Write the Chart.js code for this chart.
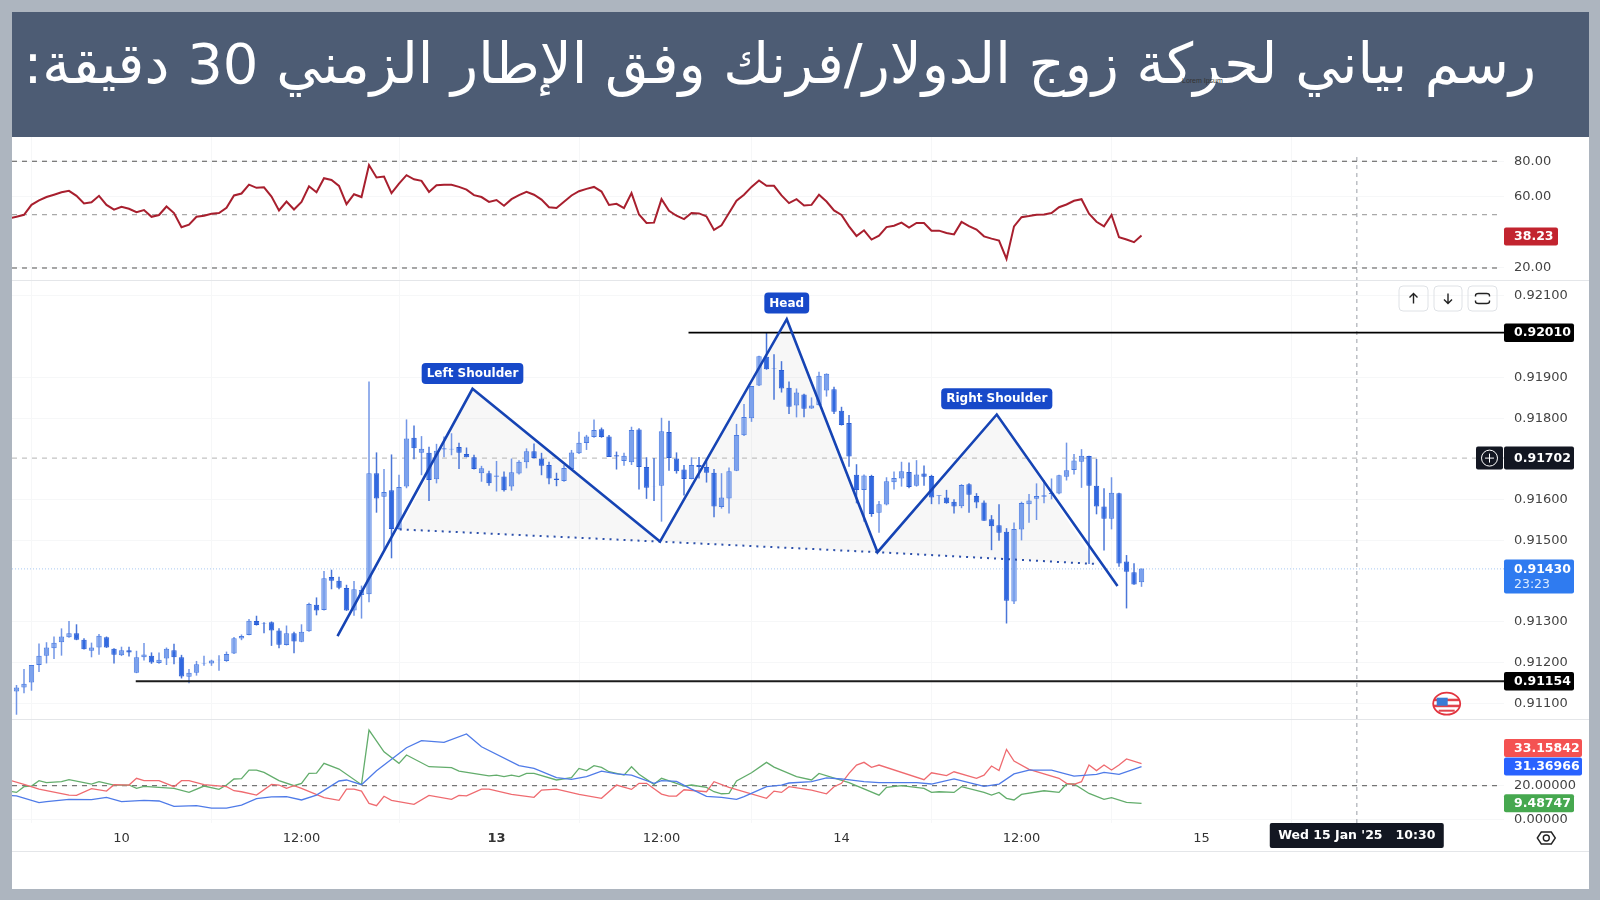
<!DOCTYPE html>
<html lang="ar">
<head>
<meta charset="utf-8">
<title>USD/CHF 30m</title>
<script src="https://cdn.jsdelivr.net/npm/chart.js@4/dist/chart.umd.min.js"></script>
<style>
html, body { margin: 0; padding: 0; background: #adb5bf; overflow: hidden; }
#page { position: relative; width: 1600px; height: 900px; background: #adb5bf; }
#card { position: absolute; left: 12px; top: 137px; width: 1577px; height: 752px; background: #fff; }
#header { position: absolute; left: 12px; top: 12px; width: 1577px; height: 125px; background: #4d5c74; }
#title { position: absolute; right: 53px; top: 19px; color: #fff; font: 56px "DejaVu Sans", sans-serif; direction: rtl; white-space: nowrap; }
#stamp { position: absolute; left: 1182px; top: 77px; color: #333; font: 7px "Liberation Sans", sans-serif; }
canvas { position: absolute; left: 0; }
.divider { position: absolute; left: 12px; width: 1577px; height: 1px; background: #e4e6e9; }
</style>
</head>
<body>
<div id="page">
  <div id="card"></div>
  <div id="header"><div id="title">رسم بياني لحركة زوج الدولار/فرنك وفق الإطار الزمني 30 دقيقة:</div></div>
  <div id="stamp">Lorem Ipsum</div>
  <canvas id="rsiPane" width="1600" height="143" style="top:137px"></canvas>
  <div class="divider" style="top:280px"></div>
  <canvas id="pricePane" width="1600" height="438" style="top:281px"></canvas>
  <div class="divider" style="top:719px"></div>
  <canvas id="dmiPane" width="1600" height="131" style="top:720px"></canvas>
  <div class="divider" style="top:851px"></div>
</div>
<script>
// candles, 30 minute bars
const opens = [
  0.91129,0.91139,0.91151,0.91194,0.91217,0.91235,0.91250,0.91262,0.91272,0.91256,
  0.91229,0.91237,0.91262,0.91234,0.91218,0.91230,0.91175,0.91213,0.91217,0.91199,
  0.91210,0.91230,0.91213,0.91165,0.91175,0.91198,0.91198,0.91206,0.91204,0.91222,
  0.91259,0.91268,0.91302,0.91297,0.91299,0.91279,0.91243,0.91272,0.91251,0.91277,
  0.91342,0.91329,0.91410,0.91401,0.91383,0.91328,0.91366,0.91368,0.91665,0.91607,
  0.91623,0.91528,0.91632,0.91752,0.91715,0.91715,0.91650,0.91723,0.91723,0.91729,
  0.91712,0.91704,0.91665,0.91665,0.91656,0.91657,0.91632,0.91664,0.91692,0.91719,
  0.91701,0.91685,0.91652,0.91646,0.91675,0.91714,0.91739,0.91754,0.91773,0.91755,
  0.91709,0.91695,0.91692,0.91772,0.91680,0.91633,0.91634,0.91766,0.91701,0.91674,
  0.91651,0.91685,0.91680,0.91666,0.91582,0.91603,0.91671,0.91758,0.91800,0.91880,
  0.91951,0.91922,0.91918,0.91875,0.91831,0.91858,0.91824,0.91832,0.91868,0.91871,
  0.91818,0.91788,0.91661,0.91624,0.91658,0.91568,0.91588,0.91643,0.91652,0.91668,
  0.91634,0.91664,0.91658,0.91609,0.91605,0.91595,0.91584,0.91638,0.91609,0.91593,
  0.91552,0.91537,0.91521,0.91350,0.91527,0.91589,0.91602,0.91607,0.91614,0.91615,
  0.91656,0.91673,0.91693,0.91707,0.91634,0.91583,0.91553,0.91616,0.91448,0.91422,
  0.91397];
const highs = [
  0.91145,0.91184,0.91194,0.91247,0.91250,0.91264,0.91284,0.91302,0.91294,0.91260,
  0.91249,0.91270,0.91264,0.91235,0.91239,0.91239,0.91229,0.91248,0.91225,0.91225,
  0.91237,0.91246,0.91219,0.91184,0.91204,0.91217,0.91207,0.91218,0.91227,0.91263,
  0.91269,0.91307,0.91315,0.91299,0.91301,0.91284,0.91291,0.91276,0.91294,0.91347,
  0.91360,0.91425,0.91428,0.91411,0.91391,0.91400,0.91389,0.91890,0.91716,0.91675,
  0.91711,0.91661,0.91797,0.91782,0.91756,0.91730,0.91737,0.91755,0.91763,0.91740,
  0.91728,0.91710,0.91683,0.91671,0.91695,0.91669,0.91701,0.91697,0.91726,0.91738,
  0.91715,0.91693,0.91666,0.91685,0.91722,0.91767,0.91759,0.91797,0.91777,0.91759,
  0.91718,0.91715,0.91779,0.91775,0.91704,0.91702,0.91801,0.91794,0.91716,0.91685,
  0.91704,0.91705,0.91701,0.91675,0.91665,0.91679,0.91786,0.91835,0.91879,0.91953,
  0.92011,0.91957,0.91940,0.91890,0.91873,0.91860,0.91851,0.91914,0.91910,0.91877,
  0.91828,0.91808,0.91687,0.91662,0.91661,0.91597,0.91655,0.91669,0.91693,0.91691,
  0.91697,0.91684,0.91661,0.91611,0.91624,0.91601,0.91638,0.91640,0.91616,0.91598,
  0.91562,0.91589,0.91530,0.91544,0.91595,0.91614,0.91640,0.91648,0.91652,0.91661,
  0.91740,0.91712,0.91724,0.91708,0.91700,0.91628,0.91655,0.91617,0.91464,0.91444,
  0.91431];
const lows = [
  0.91072,0.91125,0.91131,0.91177,0.91198,0.91209,0.91217,0.91261,0.91255,0.91232,
  0.91213,0.91219,0.91236,0.91198,0.91216,0.91215,0.91174,0.91205,0.91197,0.91197,
  0.91194,0.91196,0.91161,0.91149,0.91168,0.91192,0.91192,0.91180,0.91202,0.91221,
  0.91255,0.91267,0.91291,0.91272,0.91241,0.91235,0.91242,0.91223,0.91250,0.91276,
  0.91316,0.91328,0.91380,0.91380,0.91327,0.91315,0.91308,0.91348,0.91568,0.91477,
  0.91456,0.91526,0.91628,0.91699,0.91660,0.91597,0.91640,0.91704,0.91709,0.91675,
  0.91704,0.91674,0.91644,0.91634,0.91620,0.91620,0.91622,0.91662,0.91677,0.91701,
  0.91660,0.91638,0.91633,0.91644,0.91674,0.91712,0.91722,0.91752,0.91752,0.91705,
  0.91674,0.91683,0.91685,0.91625,0.91602,0.91597,0.91546,0.91671,0.91664,0.91610,
  0.91650,0.91652,0.91642,0.91557,0.91578,0.91566,0.91670,0.91756,0.91791,0.91879,
  0.91919,0.91845,0.91863,0.91810,0.91802,0.91802,0.91823,0.91831,0.91853,0.91810,
  0.91782,0.91681,0.91591,0.91546,0.91558,0.91519,0.91586,0.91625,0.91632,0.91628,
  0.91632,0.91634,0.91589,0.91589,0.91590,0.91566,0.91579,0.91568,0.91579,0.91548,
  0.91476,0.91499,0.91296,0.91344,0.91500,0.91543,0.91550,0.91591,0.91601,0.91613,
  0.91647,0.91662,0.91629,0.91442,0.91564,0.91475,0.91527,0.91435,0.91333,0.91391,
  0.91386];
const closes = [
  0.91139,0.91148,0.91194,0.91217,0.91237,0.91249,0.91264,0.91272,0.91256,0.91233,
  0.91237,0.91266,0.91237,0.91219,0.91230,0.91225,0.91213,0.91220,0.91200,0.91207,
  0.91234,0.91213,0.91166,0.91175,0.91196,0.91199,0.91205,0.91207,0.91221,0.91260,
  0.91265,0.91303,0.91292,0.91296,0.91279,0.91244,0.91272,0.91252,0.91276,0.91344,
  0.91328,0.91407,0.91401,0.91384,0.91328,0.91380,0.91378,0.91665,0.91603,0.91619,
  0.91528,0.91631,0.91750,0.91726,0.91725,0.91648,0.91720,0.91726,0.91725,0.91715,
  0.91704,0.91675,0.91677,0.91640,0.91659,0.91623,0.91667,0.91693,0.91719,0.91702,
  0.91683,0.91652,0.91648,0.91678,0.91716,0.91740,0.91755,0.91771,0.91754,0.91705,
  0.91706,0.91708,0.91771,0.91680,0.91629,0.91632,0.91768,0.91702,0.91670,0.91651,
  0.91685,0.91680,0.91666,0.91583,0.91605,0.91670,0.91759,0.91803,0.91879,0.91952,
  0.91920,0.91921,0.91873,0.91828,0.91863,0.91823,0.91831,0.91904,0.91909,0.91816,
  0.91783,0.91706,0.91624,0.91659,0.91565,0.91589,0.91645,0.91653,0.91670,0.91631,
  0.91662,0.91656,0.91605,0.91611,0.91591,0.91583,0.91636,0.91612,0.91593,0.91548,
  0.91535,0.91519,0.91352,0.91528,0.91592,0.91598,0.91609,0.91611,0.91617,0.91660,
  0.91672,0.91696,0.91708,0.91634,0.91583,0.91553,0.91617,0.91443,0.91423,0.91392,
  0.91431];

// rsi, first value sits just before bar 0
const rsiValues = [
  47.9,
  48.8,49.9,55.5,58.0,59.9,61.2,62.6,63.4,60.6,56.3,
  57.0,60.6,55.5,52.8,54.4,53.3,51.4,52.6,48.8,49.8,
  54.6,50.9,42.9,44.4,48.8,49.4,50.5,50.9,53.9,60.8,
  61.9,66.9,65.1,65.4,60.2,52.4,57.4,52.9,57.2,66.0,
  62.6,70.5,69.5,66.2,55.9,61.5,59.9,77.9,70.9,71.4,
  62.1,67.5,72.2,69.9,69.0,62.8,66.6,66.8,66.8,65.6,
  64.1,61.0,59.9,57.2,58.2,55.0,58.7,61.0,62.8,61.2,
  58.5,54.2,53.7,57.2,60.8,63.2,64.5,65.6,63.0,55.5,
  56.1,53.7,62.1,50.1,45.3,45.5,58.7,52.2,49.4,47.5,
  50.9,50.7,49.0,41.4,44.0,50.9,57.8,61.2,65.6,69.2,
  66.2,66.2,60.8,56.5,58.7,55.2,55.5,61.2,57.4,52.4,
  49.8,43.4,38.0,41.2,36.0,38.2,43.0,43.8,45.5,42.7,
  45.3,45.3,41.0,41.0,39.7,38.9,45.9,43.6,41.6,37.8,
  36.5,35.4,25.1,43.4,48.6,49.2,50.0,50.1,50.9,54.2,
  55.7,57.8,58.7,50.5,46.0,43.4,49.8,37.3,36.0,34.5,
  38.23];
const rsiLevels = [80, 50, 20];
const rsiTicks = [80, 60, 20];

// dmi lines, only the turning points
const adxBars = [-1,0,3,4,7,10,12,14,17,19,21,24,26,28,30,32,34,36,38,40,43,44,46,48,52,54,57,60,62,67,69,72,74,76,78,80,82,85,86,88,90,92,94,96,97,100,102,103,106,108,110,113,115,120,122,125,129,131,133,135,138,141,144,145,147,150];
const adxValues = [14.2,14.0,9.9,10.5,11.9,11.7,13.1,10.5,11.3,10.9,7.7,8.1,6.7,6.7,8.5,12.3,13.3,13.5,11.5,14.4,22.8,23.4,20.6,28.9,42.6,46.8,45.8,50.8,43.2,31.9,30.3,24.8,23.8,25.4,28.7,27.0,26.3,21.4,23.0,22.6,18.0,13.7,13.1,11.9,13.5,19.4,20.4,21.6,22.4,24.6,24.0,22.4,21.8,21.8,21.0,24.0,19.6,21.0,27.0,29.3,29.3,25.7,26.7,27.9,26.7,31.37];
const minusDiBars = [-1,1,3,7,8,10,12,13,15,16,17,19,21,22,23,25,28,29,30,32,34,35,36,37,38,41,43,44,45,46,47,48,49,50,53,55,58,59,60,62,63,66,69,70,72,75,78,80,82,83,84,86,87,88,89,92,93,95,100,101,102,103,106,108,109,110,111,112,113,114,115,121,122,124,125,128,129,130,131,132,133,135,139,140,141,142,143,144,145,146,147,148,150];
const minusDiValues = [23.4,20.8,18.0,14.4,14.2,18.2,16.8,20.6,20.4,24.4,23.0,23.0,19.4,23.0,23.0,20.6,19.4,17.0,16.4,14.4,20.8,20.4,18.4,20.0,18.4,12.9,11.3,18.0,18.0,16.8,9.5,8.1,13.7,11.3,8.9,14.2,11.9,14.2,14.0,18.0,18.0,14.8,13.1,17.4,18.0,14.8,12.5,20.4,17.8,21.4,21.4,15.0,13.8,13.8,17.6,16.4,22.4,19.0,12.5,16.8,16.0,19.4,17.4,15.2,19.4,21.4,27.3,32.3,33.9,30.9,32.3,23.6,27.7,26.0,28.3,24.4,26.3,31.7,29.0,41.6,34.7,29.7,24.4,21.4,20.8,22.4,32.3,29.0,32.3,29.3,32.3,35.9,33.16];
const plusDiBars = [-1,0,1,2,3,4,6,7,10,11,13,15,16,17,21,23,25,27,28,29,30,31,32,33,35,37,38,39,40,41,43,46,47,49,51,52,55,58,59,63,64,65,66,67,68,69,72,74,75,76,77,78,79,81,82,83,85,86,88,89,90,92,93,94,95,96,98,100,101,104,106,107,111,115,116,118,121,122,123,125,126,129,130,131,132,133,134,137,139,140,141,143,145,146,148,150];
const plusDiValues = [16.8,16.0,19.4,19.8,23.0,21.8,22.4,23.6,21.0,22.4,20.4,20.4,18.4,19.6,18.4,16.0,19.8,17.8,20.4,24.0,24.2,29.3,29.3,27.9,23.0,20.0,21.4,27.3,27.5,33.3,29.9,20.6,53.1,40.2,33.3,38.3,31.3,30.7,28.7,25.8,26.3,25.4,26.3,25.4,27.3,27.3,23.4,24.8,30.3,29.0,31.9,30.9,28.3,26.3,31.3,26.8,20.8,24.4,21.4,19.8,20.4,19.0,16.4,15.2,15.4,22.8,27.7,33.9,31.1,25.4,23.4,27.3,21.8,14.4,19.0,20.0,18.4,16.0,16.4,16.0,19.4,16.0,14.4,16.0,12.5,11.5,14.8,17.0,16.0,21.0,21.0,15.4,11.9,12.9,10.1,9.49];
const dmiLevels = [20];
const dmiTicks = [20, 0];

// head and shoulders drawing
const patternBars = [42.8, 60.8, 85.8, 102.7, 114.8, 130.7, 146.8];
const patternPrices = [0.91265, 0.91872, 0.91497, 0.92043, 0.91471, 0.91809, 0.91388];
const shadeBars = [51.1, 60.8, 85.8, 102.7, 114.8, 130.7, 144.0];
const shadePrices = [0.91527, 0.91872, 0.91497, 0.92043, 0.91471, 0.91809, 0.91442];
const neckBars = [51.1, 85.8, 114.8, 144.0];
const neckPrices = [0.91527, 0.91497, 0.91471, 0.91442];
const patternNames = ['Left Shoulder', 'Head', 'Right Shoulder'];
const patternNameBars = [60.8, 102.7, 130.7];
const patternNamePrices = [0.91910, 0.92083, 0.91848];

const priceTicks = [0.921, 0.919, 0.918, 0.916, 0.915, 0.913, 0.912, 0.911];
const resistance = 0.92010;
const resistanceStart = 89.6;
const support = 0.91154;
const supportStart = 15.9;
const crossPrice = 0.91702;
const lastPrice = 0.91430;
const countdown = '23:23';
const crossBar = 178.7;
const crossDate = "Wed 15 Jan '25   10:30";

const timeBars = [14, 38, 64, 86, 110, 134, 158];
const timeLabels = ['10', '12:00', '13', '12:00', '14', '12:00', '15'];
const boldTimeLabel = '13';

const barMin = -0.6;
const barMax = 198.33;
const levelEnd = 197.5;
const fontFamily = '"DejaVu Sans", sans-serif';

function zip(bars, values) {
  return bars.map((b, i) => ({ x: b, y: values[i] }));
}

function lineSet(data, color, width, dash, order) {
  return {
    type: 'line', data: data, borderColor: color, borderWidth: width,
    borderDash: dash || [], pointRadius: 0, tension: 0, fill: false, order: order || 2
  };
}

function makeScales(yMin, yMax, yTicks, decimals, showTime) {
  return {
    x: {
      type: 'linear', min: barMin, max: barMax, offset: false,
      grid: { color: '#f6f7f8', drawTicks: false },
      border: { display: false },
      afterBuildTicks: s => { s.ticks = timeBars.map(v => ({ value: v })); },
      afterFit: s => { s.height = showTime ? 28 : 0; },
      ticks: {
        display: showTime, autoSkip: false, maxRotation: 0, padding: 8, color: '#333',
        font: ctx => ({
          family: fontFamily, size: 13,
          weight: ctx.tick && timeLabels[timeBars.indexOf(ctx.tick.value)] === boldTimeLabel ? 'bold' : 'normal'
        }),
        callback: v => timeLabels[timeBars.indexOf(v)]
      }
    },
    y: {
      position: 'right', min: yMin, max: yMax,
      grid: { color: '#f6f7f8', drawTicks: false },
      border: { display: false },
      afterBuildTicks: s => { s.ticks = yTicks.map(v => ({ value: v })); },
      afterFit: s => { s.width = 85; s.paddingTop = 0; s.paddingBottom = 0; },
      ticks: {
        padding: 10, color: '#444', autoSkip: false,
        font: { family: fontFamily, size: 13 },
        callback: v => v.toFixed(decimals)
      }
    }
  };
}

function makeChart(id, datasets, scales, plugins) {
  return new Chart(document.getElementById(id), {
    type: 'bar',
    data: { datasets: datasets },
    options: {
      responsive: false, animation: false,
      layout: { padding: { left: 12, right: 11, top: 0, bottom: 0 } },
      plugins: { legend: { display: false }, tooltip: { enabled: false } },
      scales: scales
    },
    plugins: plugins
  });
}

// price tag on the right axis
function drawTag(ctx, x, yMid, w, h, color, text) {
  ctx.fillStyle = color;
  ctx.beginPath();
  ctx.roundRect(x, yMid - h / 2, w, h, 2);
  ctx.fill();
  ctx.fillStyle = '#fff';
  ctx.font = 'bold 12.5px ' + fontFamily;
  ctx.textAlign = 'left';
  ctx.textBaseline = 'middle';
  ctx.fillText(text, x + 10, yMid + 0.5);
}

function drawButton(ctx, x, y, w, h, kind) {
  ctx.strokeStyle = '#dfe2e6';
  ctx.lineWidth = 1;
  ctx.beginPath();
  ctx.roundRect(x, y, w, h, 4);
  ctx.stroke();
  const cx = x + w / 2, cy = y + h / 2;
  ctx.strokeStyle = '#222';
  ctx.lineWidth = 1.4;
  ctx.beginPath();
  if (kind === 'up' || kind === 'down') {
    const d = kind === 'up' ? -1 : 1;
    ctx.moveTo(cx, cy - 5 * d);
    ctx.lineTo(cx, cy + 5 * d);
    ctx.moveTo(cx - 4, cy + d);
    ctx.lineTo(cx, cy + 5 * d);
    ctx.lineTo(cx + 4, cy + d);
  } else {
    ctx.moveTo(cx - 7, cy - 2);
    ctx.lineTo(cx - 7, cy - 3);
    ctx.quadraticCurveTo(cx - 7, cy - 5, cx - 4, cy - 5);
    ctx.lineTo(cx + 4, cy - 5);
    ctx.quadraticCurveTo(cx + 7, cy - 5, cx + 7, cy - 3);
    ctx.lineTo(cx + 7, cy - 2);
    ctx.moveTo(cx - 7, cy + 2);
    ctx.lineTo(cx - 7, cy + 3);
    ctx.quadraticCurveTo(cx - 7, cy + 5, cx - 4, cy + 5);
    ctx.lineTo(cx + 4, cy + 5);
    ctx.quadraticCurveTo(cx + 7, cy + 5, cx + 7, cy + 3);
    ctx.lineTo(cx + 7, cy + 2);
  }
  ctx.stroke();
}

function drawFlag(ctx, cx, cy) {
  ctx.save();
  ctx.beginPath();
  ctx.ellipse(cx, cy, 13.5, 11, 0, 0, Math.PI * 2);
  ctx.fillStyle = '#fff';
  ctx.fill();
  ctx.clip();
  ctx.fillStyle = '#e2434c';
  ctx.fillRect(cx - 14, cy - 5, 28, 2.5);
  ctx.fillRect(cx - 14, cy + 1, 28, 2.5);
  ctx.fillRect(cx - 8, cy + 6, 16, 2);
  ctx.fillStyle = '#3a7bd5';
  ctx.fillRect(cx - 10, cy - 6, 11, 8);
  ctx.restore();
  ctx.strokeStyle = '#e2343f';
  ctx.lineWidth = 1.8;
  ctx.beginPath();
  ctx.ellipse(cx, cy, 13.5, 11, 0, 0, Math.PI * 2);
  ctx.stroke();
}

const rsiPlugin = {
  id: 'rsiTags',
  afterDraw(chart) {
    const y = chart.scales.y.getPixelForValue(rsiValues[rsiValues.length - 1]);
    drawTag(chart.ctx, 1504, y + 1, 54, 18, '#c2242f', rsiValues[rsiValues.length - 1].toFixed(2));
  }
};

const pricePlugin = {
  id: 'priceTags',
  afterDraw(chart) {
    const ctx = chart.ctx, sy = chart.scales.y, sx = chart.scales.x;
    // pattern name boxes
    patternNames.forEach((name, i) => {
      ctx.font = 'bold 12px ' + fontFamily;
      const w = ctx.measureText(name).width + 10;
      const cx = sx.getPixelForValue(patternNameBars[i]);
      const cy = sy.getPixelForValue(patternNamePrices[i]);
      ctx.fillStyle = '#1749c9';
      ctx.beginPath();
      ctx.roundRect(cx - w / 2, cy - 10.5, w, 21, 4);
      ctx.fill();
      ctx.fillStyle = '#fff';
      ctx.textAlign = 'center';
      ctx.textBaseline = 'middle';
      ctx.fillText(name, cx, cy + 0.5);
    });
    drawTag(ctx, 1504, sy.getPixelForValue(resistance), 70, 18.5, '#000', resistance.toFixed(5));
    drawTag(ctx, 1504, sy.getPixelForValue(support), 70, 18.5, '#000', support.toFixed(5));
    const yc = sy.getPixelForValue(crossPrice);
    drawTag(ctx, 1504, yc, 70, 23, '#131722', crossPrice.toFixed(5));
    ctx.fillStyle = '#131722';
    ctx.beginPath();
    ctx.roundRect(1476, yc - 11.5, 27, 23, 2);
    ctx.fill();
    ctx.strokeStyle = '#fff';
    ctx.lineWidth = 1;
    ctx.beginPath();
    ctx.arc(1489.5, yc, 8, 0, Math.PI * 2);
    ctx.moveTo(1485, yc);
    ctx.lineTo(1494, yc);
    ctx.moveTo(1489.5, yc - 4.5);
    ctx.lineTo(1489.5, yc + 4.5);
    ctx.stroke();
    // last price with countdown below it
    const yl = sy.getPixelForValue(lastPrice);
    ctx.fillStyle = '#2f7bf0';
    ctx.beginPath();
    ctx.roundRect(1504, yl - 9.5, 70, 34, 2);
    ctx.fill();
    ctx.fillStyle = '#fff';
    ctx.font = 'bold 12.5px ' + fontFamily;
    ctx.textAlign = 'left';
    ctx.textBaseline = 'middle';
    ctx.fillText(lastPrice.toFixed(5), 1514, yl + 0.5);
    ctx.fillStyle = '#dcebff';
    ctx.font = '12.5px ' + fontFamily;
    ctx.fillText(countdown, 1514, yl + 16);
    // chart buttons, event flag
    drawButton(ctx, 1399, 5, 29, 25, 'up');
    drawButton(ctx, 1434, 5, 28, 25, 'down');
    drawButton(ctx, 1468, 5, 29, 25, 'box');
    drawFlag(ctx, 1446.7, 422.7);
  }
};

const dmiPlugin = {
  id: 'dmiTags',
  afterDraw(chart) {
    const ctx = chart.ctx, sy = chart.scales.y, sx = chart.scales.x;
    // zero label gets cut by the time axis strip
    ctx.fillStyle = '#fff';
    ctx.fillRect(1504, chart.chartArea.bottom, 85, 28);
    const blue = adxValues[adxValues.length - 1];
    const red = minusDiValues[minusDiValues.length - 1];
    const green = plusDiValues[plusDiValues.length - 1];
    drawTag(ctx, 1504, sy.getPixelForValue(blue), 78, 18, '#2962ff', '31.36966');
    drawTag(ctx, 1504, sy.getPixelForValue(red) - 15.5, 78, 18, '#f45252', '33.15842');
    drawTag(ctx, 1504, sy.getPixelForValue(green), 70, 18, '#46a84f', '9.48747');
    // date tag under the crosshair
    const cx = sx.getPixelForValue(crossBar);
    ctx.fillStyle = '#131722';
    ctx.beginPath();
    ctx.roundRect(cx - 87, chart.chartArea.bottom, 174, 25, 2);
    ctx.fill();
    ctx.fillStyle = '#fff';
    ctx.font = 'bold 12.5px ' + fontFamily;
    ctx.textAlign = 'center';
    ctx.textBaseline = 'middle';
    ctx.fillText(crossDate, cx, chart.chartArea.bottom + 13);
    // settings icon
    const ex = 1546.3, ey = chart.chartArea.bottom + 15;
    ctx.strokeStyle = '#222';
    ctx.lineWidth = 1.4;
    ctx.beginPath();
    ctx.moveTo(ex - 9, ey);
    ctx.lineTo(ex - 5, ey - 6);
    ctx.lineTo(ex + 5, ey - 6);
    ctx.lineTo(ex + 9, ey);
    ctx.lineTo(ex + 5, ey + 6);
    ctx.lineTo(ex - 5, ey + 6);
    ctx.closePath();
    ctx.moveTo(ex + 3, ey);
    ctx.arc(ex, ey, 3, 0, Math.PI * 2);
    ctx.stroke();
  }
};

// rsi pane
const rsiMin = 13.25, rsiMax = 93.67;
const rsiSets = [
  lineSet(rsiValues.map((v, i) => ({ x: i - 1, y: v })), '#a81f2e', 2, null, 1),
  lineSet(zip([crossBar, crossBar], [82.4, rsiMin]), '#bcbfc4', 1.5, [4, 4], 6)
];
rsiLevels.forEach(v => {
  rsiSets.push(lineSet(zip([barMin, levelEnd], [v, v]), v === 50 ? '#a5a5a5' : '#6f6f6f', 1.2, [5, 5], 5));
});
makeChart('rsiPane', rsiSets, makeScales(rsiMin, rsiMax, rsiTicks, 2, false), [rsiPlugin]);

// price pane
const priceMin = 0.910615, priceMax = 0.921368;
const isUp = opens.map((o, i) => closes[i] >= o);
const priceSets = [
  lineSet(zip(patternBars, patternPrices), '#1644b4', 2.6, null, 1),
  lineSet(zip(neckBars, neckPrices), '#2c50ab', 2, [2, 5], 2),
  {
    type: 'bar', grouped: false, maxBarThickness: 6, order: 4, borderWidth: 1, borderSkipped: false,
    data: opens.map((o, i) => ({ x: i, y: [o, closes[i]] })),
    backgroundColor: isUp.map(u => (u ? '#7ba1ec' : '#3169e0')),
    borderColor: isUp.map(u => (u ? '#4a7be2' : '#2a5dd4'))
  },
  {
    type: 'bar', grouped: false, maxBarThickness: 1.5, order: 5, borderWidth: 0, borderSkipped: false,
    data: lows.map((l, i) => ({ x: i, y: [l, highs[i]] })),
    backgroundColor: isUp.map(u => (u ? '#7296e6' : '#4a76d8'))
  },
  lineSet(zip([resistanceStart, barMax], [resistance, resistance]), '#000', 1.8, null, 3),
  lineSet(zip([supportStart, barMax], [support, support]), '#1b1b1b', 2, null, 3),
  lineSet(zip([barMin, barMax], [crossPrice, crossPrice]), '#b3b3b3', 1, [5, 5], 8),
  lineSet(zip([barMin, barMax], [lastPrice, lastPrice]), '#a9c9f2', 1, [1, 2], 8),
  lineSet(zip([crossBar, crossBar], [priceMin, priceMax]), '#bcbfc4', 1.5, [4, 4], 7),
  // light fill inside the pattern, goes to the next dataset
  Object.assign(lineSet(zip(shadeBars, shadePrices), 'rgba(0,0,0,0)', 0, null, 10), {
    fill: '+1', backgroundColor: 'rgba(110,110,110,0.055)'
  }),
  lineSet(zip(neckBars, neckPrices), 'rgba(0,0,0,0)', 0, null, 11)
];
makeChart('pricePane', priceSets, makeScales(priceMin, priceMax, priceTicks, 5, false), [pricePlugin]);

// dmi pane
const dmiMin = -2.2, dmiMax = 59.1;
const dmiSets = [
  lineSet(zip(adxBars, adxValues), '#4f7be8', 1.3, null, 1),
  lineSet(zip(minusDiBars, minusDiValues), '#ef6b70', 1.3, null, 2),
  lineSet(zip(plusDiBars, plusDiValues), '#63ad6c', 1.3, null, 3),
  lineSet(zip([barMin, levelEnd], [dmiLevels[0], dmiLevels[0]]), '#555', 1, [5, 5], 4),
  lineSet(zip([crossBar, crossBar], [dmiMin, dmiMax]), '#bcbfc4', 1.5, [4, 4], 5)
];
makeChart('dmiPane', dmiSets, makeScales(dmiMin, dmiMax, dmiTicks, 5, true), [dmiPlugin]);
</script>
</body>
</html>
